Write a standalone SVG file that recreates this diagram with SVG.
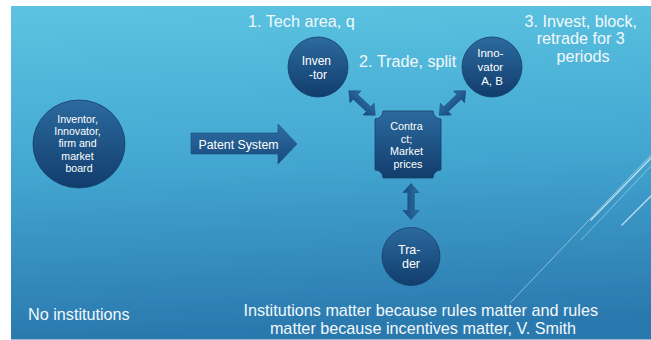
<svg xmlns="http://www.w3.org/2000/svg" xmlns:xlink="http://www.w3.org/1999/xlink" width="651" height="340" viewBox="0 0 651 340">
  <defs>
    <linearGradient id="bg" x1="0" y1="0" x2="0.08" y2="1">
      <stop offset="0" stop-color="#5cc4e1"/>
      <stop offset="0.5" stop-color="#43a6d1"/>
      <stop offset="1" stop-color="#2a79ae"/>
    </linearGradient>
    <linearGradient id="node" x1="0" y1="0" x2="0" y2="1">
      <stop offset="0" stop-color="#2c6a9f"/>
      <stop offset="1" stop-color="#113d6c"/>
    </linearGradient>
    <linearGradient id="arrowFill" x1="0" y1="0" x2="0" y2="1">
      <stop offset="0" stop-color="#2f6ea3"/>
      <stop offset="1" stop-color="#174a7c"/>
    </linearGradient>
    <!-- two-headed block arrow, centred on the origin, pointing along x -->
    <path id="dbl" d="M-18,0 L-9,-8 L-9,-3.2 L9,-3.2 L9,-8 L18,0 L9,8 L9,3.2 L-9,3.2 L-9,8 Z"/>
  </defs>
  <style>
    .node { fill: url(#node); stroke: #163f6b; stroke-width: 0.8; }
    .arrow { fill: url(#arrowFill); stroke: #1a4a7a; stroke-width: 0.6; }
    .lbl { font-family: "Liberation Sans", Arial, sans-serif; fill: #ffffff; text-anchor: middle; }
    .cap { font-family: "Liberation Sans", Arial, sans-serif; fill: #f2f8fb; font-size: 16.2px; }
    .deco { stroke: #e8f6fc; fill: none; stroke-linecap: round; }
  </style>

  <!-- slide background -->
  <rect x="0" y="0" width="651" height="340" fill="#ffffff"/>
  <rect x="11" y="6" width="640" height="333.5" fill="url(#bg)"/>

  <!-- decorative strokes at the right edge -->
  <g id="decoration">
    <line class="deco" x1="511" y1="302" x2="651" y2="155" stroke-width="0.7" opacity="0.7"/>
    <line class="deco" x1="591" y1="220" x2="651" y2="158" stroke-width="1.4" opacity="0.75"/>
    <line class="deco" x1="581" y1="240" x2="651" y2="166" stroke-width="0.7" opacity="0.6"/>
    <line class="deco" x1="622" y1="225" x2="651" y2="196" stroke-width="1.4" opacity="0.75"/>
  </g>

  <!-- connectors -->
  <g id="connectors">
    <path class="arrow" d="M191,133 H278 V124 L297,144 L278,164 V154 H191 Z"/>
    <use href="#dbl" class="arrow" transform="translate(362,103) rotate(43)"/>
    <use href="#dbl" class="arrow" transform="translate(452.5,103) rotate(-43)"/>
    <use href="#dbl" class="arrow" transform="translate(411,201.5) rotate(90)"/>
    <text class="lbl" x="238.5" y="148.5" font-size="12.3">Patent System</text>
  </g>

  <g id="no-institutions-node">
    <ellipse class="node" cx="79" cy="144" rx="46" ry="44"/>
    <text class="lbl" font-size="10.6">
      <tspan x="79" y="123">Inventor,</tspan>
      <tspan x="79" y="135">Innovator,</tspan>
      <tspan x="79" y="147">firm and</tspan>
      <tspan x="79" y="160">market</tspan>
      <tspan x="79" y="172">board</tspan>
    </text>
  </g>

  <g id="inventor">
    <circle class="node" cx="318" cy="67" r="30"/>
    <text class="lbl" font-size="12">
      <tspan x="318" y="65">Inven</tspan>
      <tspan x="318" y="79">-tor</tspan>
    </text>
  </g>

  <g id="innovator">
    <circle class="node" cx="492" cy="67" r="30"/>
    <text class="lbl" font-size="11.5">
      <tspan x="492" y="57">Inno-</tspan>
      <tspan x="492" y="71">vator</tspan>
      <tspan x="492" y="85">A, B</tspan>
    </text>
  </g>

  <g id="contract">
    <path class="node" d="M383,111 H433 A8,8 0 0 0 441,119 V170 A8,8 0 0 0 433,178 H383 A8,8 0 0 0 375,170 V119 A8,8 0 0 0 383,111 Z"/>
    <text class="lbl" font-size="10.8">
      <tspan x="408" y="130">Contra</tspan>
      <tspan x="408" y="143">ct;</tspan>
      <tspan x="408" y="155">Market</tspan>
      <tspan x="408" y="168">prices</tspan>
    </text>
  </g>

  <g id="trader">
    <circle class="node" cx="411" cy="256.5" r="29"/>
    <text class="lbl" font-size="12.5">
      <tspan x="411" y="254">Tra-</tspan>
      <tspan x="411" y="268">der</tspan>
    </text>
  </g>

  <!-- captions -->
  <g id="captions">
    <text class="cap" x="248" y="27">1. Tech area, q</text>
    <text class="cap" x="359" y="67" font-size="15.8">2. Trade, split</text>
    <text class="cap" text-anchor="middle">
      <tspan x="583" y="27">3. Invest, block,</tspan>
      <tspan x="583" y="44">retrade for 3</tspan>
      <tspan x="583" y="62">periods</tspan>
    </text>
    <text class="cap" x="28" y="320" font-size="15.8">No institutions</text>
    <text class="cap" text-anchor="middle">
      <tspan x="423" y="316">Institutions matter because rules matter and rules</tspan>
      <tspan x="423" y="334">matter because incentives matter, V. Smith</tspan>
    </text>
  </g>
</svg>
